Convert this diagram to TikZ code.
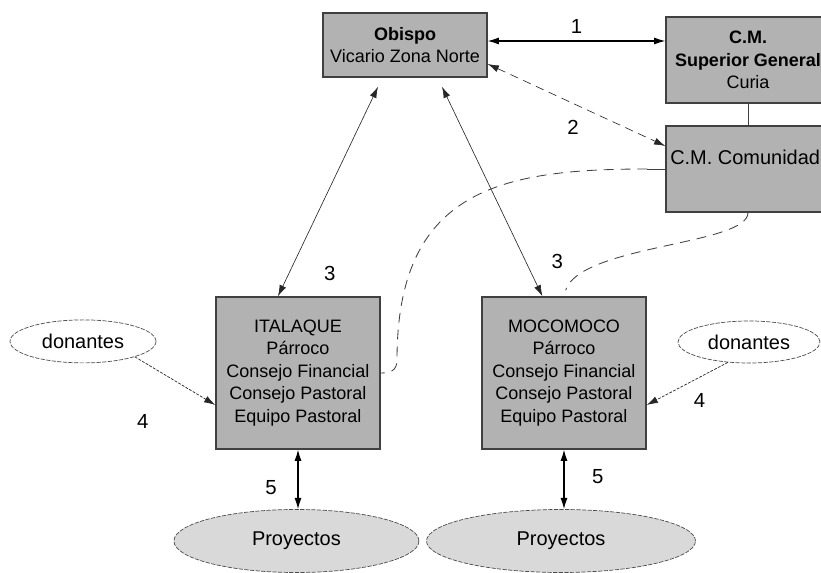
\documentclass[tikz,border=0pt]{standalone}
\usepackage{fontspec}
\setmainfont{Liberation Sans}
\usetikzlibrary{shapes.geometric}
\usetikzlibrary{arrows.meta}
\usetikzlibrary{positioning}

\begin{document}
\begin{tikzpicture}[>={Latex[length=8pt,width=5pt]}, font=\fontsize{12.8}{16}\selectfont]
\tikzstyle{box} = [rectangle, draw=black!75, line width=1pt, fill=black!30, minimum width=4.1cm, align=center, inner sep=0pt]
\tikzstyle{donor} = [ellipse, draw=black!70, line width=0.5pt, dash pattern=on 3pt off 1pt, fill=white, inner sep=0pt, font=\fontsize{14.2}{17}\selectfont]
\tikzstyle{project} = [ellipse, draw=black!70, line width=0.5pt, dash pattern=on 3pt off 1pt, fill=black!15, inner sep=0pt, font=\fontsize{14.2}{17}\selectfont]
\tikzstyle{strong} = [draw=black, line width=0.8pt, <->]
\tikzstyle{weak} = [draw=black!85, line width=0.45pt, <->]
\tikzstyle{gift} = [draw=black!85, line width=0.5pt, dash pattern=on 2pt off 1pt, ->]
\tikzstyle{tie} = [draw=black!75, line width=0.6pt, dash pattern=on 7pt off 5pt]
\tikzstyle{num} = [inner sep=2pt, font=\fontsize{14.5}{17}\selectfont]

\useasboundingbox (0,0) rectangle (20.525,14.325);
\clip (0,0) rectangle (20.525,14.325);

% boxes
\node[box, minimum height=1.6cm] (obispo) at (10.125,13.2) {\textbf{Obispo}\\Vicario Zona Norte};
\node[box, minimum height=2.15cm] (superior) at (18.7,12.825) {\textbf{C.M.}\\\textbf{Superior General}\\Curia};
\node[box, minimum height=2.15cm] (comunidad) at (18.7,10.1) {};
\node[anchor=west, font=\fontsize{14.2}{17}\selectfont] (comtext) at ([yshift=0.3cm]comunidad.west) {C.M. Comunidad};
\node[box, minimum height=3.8cm] (italaque) at (7.45,5.0) {ITALAQUE\\Párroco\\Consejo Financial\\Consejo Pastoral\\Equipo Pastoral};
\node[box, minimum height=3.8cm] (mocomoco) at (14.1,5.0) {MOCOMOCO\\Párroco\\Consejo Financial\\Consejo Pastoral\\Equipo Pastoral};

% ellipses
\node[donor, minimum width=3.65cm, minimum height=1.075cm] (donL) at (2.075,5.79) {donantes};
\node[donor, minimum width=3.55cm, minimum height=1.05cm] (donR) at (18.725,5.775) {donantes};
\node[project, minimum width=6.125cm, minimum height=1.575cm] (proyL) at (7.41,0.8) {Proyectos};
\node[project, minimum width=6.725cm, minimum height=1.575cm] (proyR) at (14.025,0.8) {Proyectos};

% links
\draw[strong] ([yshift=0.1cm]obispo.east) -- ([yshift=0.475cm]superior.west) node[num, midway, above=0.1cm] (n1) {1};
\draw[weak, dash pattern=on 6pt off 4pt] ([yshift=-0.475cm]obispo.east) -- ([yshift=0.575cm]comunidad.west) node[num, pos=0.48, below=0.35cm] (n2) {2};
\draw[draw=black!75, line width=0.6pt] (superior) -- (comunidad);
\draw[weak] ([xshift=-0.5cm]italaque.north) -- ([xshift=-0.675cm,yshift=-0.225cm]obispo.south) node[num, pos=0.11, right=0.8cm] (n3a) {3};
\draw[weak] ([xshift=-0.54cm]mocomoco.north) -- ([xshift=0.925cm,yshift=-0.225cm]obispo.south) node[num, pos=0.167, right=0.57cm] (n3b) {3};
\draw[gift] (donL.south east) -- ([yshift=-0.8cm]italaque.west) node[num, pos=0.1, below=1.25cm] (n4a) {4};
\draw[gift] (donR.224) -- ([yshift=-0.8cm]mocomoco.east) node[num, pos=0.9, right=0.9cm] (n4b) {4};
\draw[strong] (italaque.south) -- (italaque.south |- proyL.north) node[num, pos=0.645, left=0.45cm] (n5a) {5};
\draw[strong] (mocomoco.south) -- (mocomoco.south |- proyR.north) node[num, pos=0.46, right=0.62cm] (n5b) {5};

% dashed ties to the community
\draw[draw=black!75, line width=0.6pt] (comunidad.west) -- ++(-0.45,0) coordinate (c1);
\draw[tie] (c1) .. controls (12.5,10.1) and (9.925,9.575) .. (9.925,5.325) .. controls (9.925,5.05) and (9.75,5.0) .. (italaque.east);
\draw[tie] (comunidad.south) .. controls (18.7,8.2) and (14.5,8.2) .. ([xshift=0.04cm,yshift=0.15cm]mocomoco.north);
\end{tikzpicture}
\end{document}
